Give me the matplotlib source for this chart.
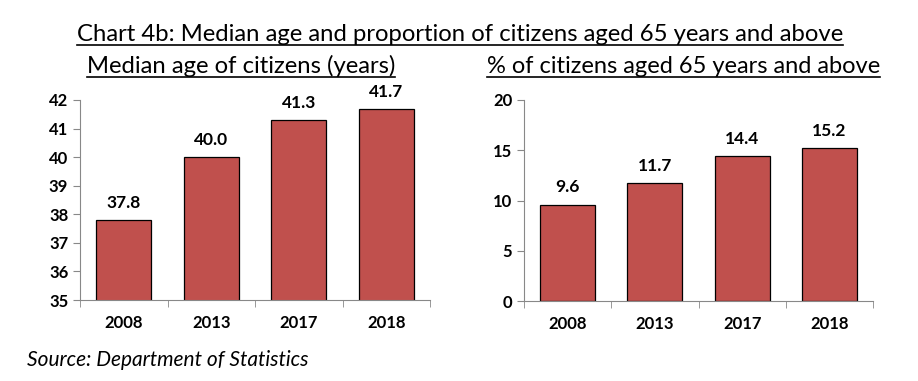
import matplotlib.pyplot as plt
from matplotlib.lines import Line2D
import numpy as np

plt.rcParams['font.family'] = ['Lato', 'DejaVu Sans']

years = ['2008', '2013', '2017', '2018']
median_age = [37.8, 40.0, 41.3, 41.7]
pct_65 = [9.6, 11.7, 14.4, 15.2]

bar_color = '#C0504D'
W, H = 918, 381

fig = plt.figure(figsize=(W / 100, H / 100), dpi=100)


def box(x0, y0, x1, y1):
    # pixel box (top-left origin) -> figure fraction
    return [x0 / W, 1 - y1 / H, (x1 - x0) / W, (y1 - y0) / H]


def draw_panel(ax, vals, ylim, yticks):
    x = np.arange(len(vals))
    ax.bar(x, vals, width=0.63, color=bar_color, edgecolor='black', linewidth=0.9)
    ax.set_xlim(-0.5, len(vals) - 0.5)
    ax.set_ylim(*ylim)
    ax.set_yticks(yticks)
    ax.set_xticks(x)
    ax.set_xticklabels(years, fontweight='bold', fontsize=12)
    ax.set_xticks(np.arange(len(vals) + 1) - 0.5, minor=True)
    ax.tick_params(axis='x', which='major', length=0, pad=11)
    ax.tick_params(axis='x', which='minor', length=5, color='#888888', direction='out')
    ax.tick_params(axis='y', length=5, color='#888888', direction='out', labelsize=12)
    for lab in ax.get_yticklabels():
        lab.set_fontweight('bold')
    for s in ['top', 'right']:
        ax.spines[s].set_visible(False)
    for s in ['left', 'bottom']:
        ax.spines[s].set_color('#888888')
    span = ylim[1] - ylim[0]
    for xi, v in zip(x, vals):
        ax.text(xi, v + span * 0.045, f'{v:.1f}', ha='center', va='bottom',
                fontsize=12.5, fontweight='bold')


ax1 = fig.add_axes(box(80, 100, 430, 300))
draw_panel(ax1, median_age, (35, 42), range(35, 43))

ax2 = fig.add_axes(box(524, 100, 873, 301))
draw_panel(ax2, pct_65, (0, 20), range(0, 21, 5))

texts = []
texts.append(fig.text(460 / W, 1 - 41 / H, 'Chart 4b: Median age and proportion of citizens aged 65 years and above',
                      ha='center', va='baseline', fontsize=17.2))
texts.append(fig.text(87 / W, 1 - 73 / H, 'Median age of citizens (years)',
                      ha='left', va='baseline', fontsize=17.2))
texts.append(fig.text(487 / W, 1 - 73 / H, '% of citizens aged 65 years and above',
                      ha='left', va='baseline', fontsize=17))

fig.text(27 / W, 1 - 366 / H, 'Source: Department of Statistics', ha='left', va='baseline',
         fontsize=15, style='italic')

# underline the titles
fig.canvas.draw()
r = fig.canvas.get_renderer()
for t in texts:
    bb = t.get_window_extent(renderer=r)
    _, yb = t.get_position()
    yline = yb - 3.5 / H
    fig.add_artist(Line2D([bb.x0 / W, bb.x1 / W], [yline, yline], color='black', linewidth=1.2,
                          transform=fig.transFigure))

fig.savefig('out.png', dpi=100)
